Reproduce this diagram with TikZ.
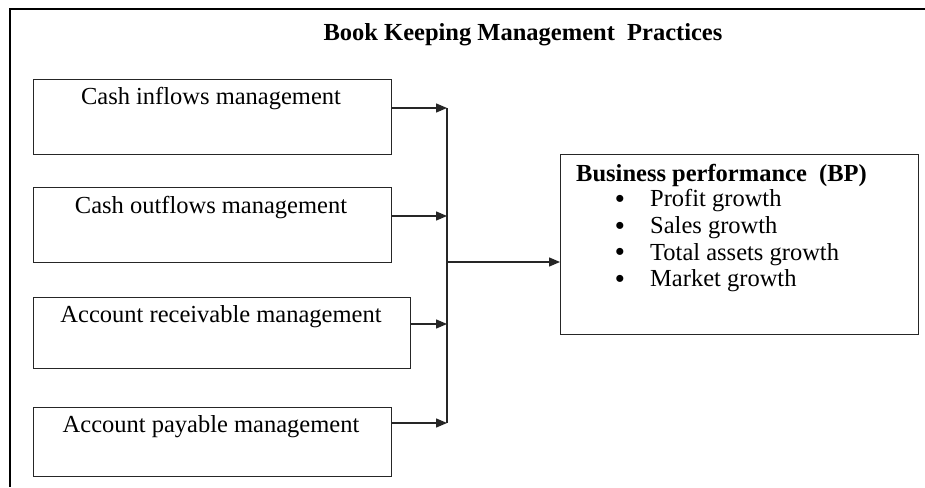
\documentclass[tikz,border=0pt]{standalone}
\usepackage{fontspec}
\setmainfont{Liberation Serif}
\usetikzlibrary{arrows.meta}
\begin{document}
\begin{tikzpicture}[x=1pt,y=-1pt,
  every node/.style={inner sep=0pt},
  txt/.style={font=\fontsize{24.5}{28}\selectfont, anchor=center},
  btxt/.style={font=\fontsize{24.5}{28}\selectfont\bfseries},
  bul/.style={font=\fontsize{26}{27}\selectfont\bfseries, anchor=center},
  boxstyle/.style={draw=black!85, line width=1.3pt, rectangle, anchor=north west},
  arr/.style={draw=black!85, line width=1.3pt, -{Triangle[length=11pt,width=9pt]}},
  ln/.style={draw=black!85, line width=1.3pt},
  frame/.style={draw=black, line width=2.4pt}]
\useasboundingbox (0,0) rectangle (925,487);
\fill[white] (0,0) rectangle (925,487);
% outer frame (top and left only)
\coordinate (f1) at (925,9);
\coordinate (f2) at (10,9);
\coordinate (f3) at (10,487);
\draw[frame] (f1) -- (f2) -- (f3);
% title
\node[btxt] (title) at (523,35) {Book Keeping Management\ \ Practices};
% left boxes
\node[boxstyle, minimum width=358pt, minimum height=75pt] (b1) at (33,79) {};
\node[boxstyle, minimum width=358pt, minimum height=75pt] (b2) at (33,187) {};
\node[boxstyle, minimum width=377pt, minimum height=71pt] (b3) at (33,297) {};
\node[boxstyle, minimum width=358pt, minimum height=69pt] (b4) at (33,407) {};
\node[txt] (t1) at (211,99) {Cash inflows management};
\node[txt] (t2) at (211,208) {Cash outflows management};
\node[txt] (t3) at (221,317) {Account receivable\ management};
\node[txt] (t4) at (211,427) {Account payable\ management};
% junction
\coordinate (j1) at (447,108);
\coordinate (j2) at (447,216);
\coordinate (j3) at (447,324);
\coordinate (j4) at (447,423);
\coordinate (jm) at (447,262);
\draw[ln] (j1) -- (j4);
\draw[arr] (b1.east |- j1) -- (j1);
\draw[arr] (b2.east |- j2) -- (j2);
\draw[arr] (b3.east |- j3) -- (j3);
\draw[arr] (b4.east |- j4) -- (j4);
% business performance box
\node[boxstyle, minimum width=358pt, minimum height=180pt] (bp) at (560,154) {};
\draw[arr] (jm) -- (bp.west |- jm);
\node[btxt, anchor=west] (bpt) at (576,175) {Business performance\ \ (BP)};
\node[bul] (d1) at (620,201) {\textbullet};
\node[bul] (d2) at (620,228) {\textbullet};
\node[bul] (d3) at (620,254.5) {\textbullet};
\node[bul] (d4) at (620,281) {\textbullet};
\node[txt, anchor=west] (l1) at (650,201) {Profit growth};
\node[txt, anchor=west] (l2) at (650,228) {Sales growth};
\node[txt, anchor=west] (l3) at (650,254.5) {Total assets\ growth};
\node[txt, anchor=west] (l4) at (650,281) {Market growth};
\end{tikzpicture}
\end{document}
